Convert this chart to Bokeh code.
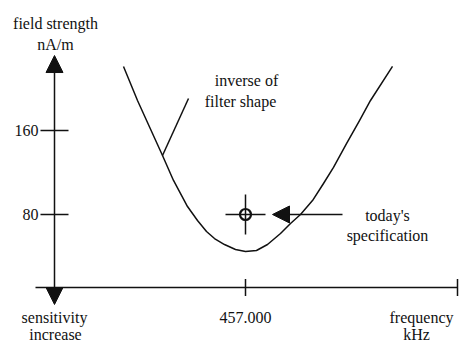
import numpy as np
from bokeh.plotting import figure
from bokeh.models import ColumnDataSource, Arrow, NormalHead, Range1d
from bokeh.core.properties import value
from bokeh.embed import file_html
from bokeh.resources import INLINE

# ---- data (frequency in kHz, field strength in nA/m) ----
curve_freq = [455.78, 455.92, 456.17, 456.28, 456.42, 456.52, 456.61, 456.69,
              456.79, 456.90, 457.00, 457.11, 457.22, 457.35, 457.45, 457.55,
              457.67, 457.78, 457.88, 458.01, 458.14, 458.25, 458.47]
curve_strength = [221.0, 188.6, 136.2, 112.4, 87.6, 74.3, 63.8, 57.1,
                  51.4, 46.7, 44.8, 45.7, 51.4, 61.9, 71.4, 80.0,
                  93.3, 109.5, 124.8, 147.6, 169.5, 188.6, 221.0]
y_ticks = [80, 160]
y_tick_labels = ["80", "160"]
x_ticks = [457.000]
x_tick_labels = ["457.000"]
spec_freq = [457.000]
spec_strength = [80]

# ---- layout constants ----
AXIS_FREQ = 455.09
AXIS_STRENGTH = 10.5
Y_AXIS_TOP = 231.4
Y_AXIS_BOTTOM = -5.7
X_AXIS_LEFT = 454.90
X_AXIS_RIGHT = 459.12
FONT = value("Liberation Serif")
FS = "16px"
INK = "#111111"

p = figure(width=459, height=344,
           x_range=Range1d(454.55, 459.14), y_range=Range1d(-43.81, 283.81),
           output_backend="svg", toolbar_location=None,
           x_axis_location=None, y_axis_location=None,
           min_border=0, outline_line_color=None)
p.grid.visible = False
p.background_fill_color = "white"
p.border_fill_color = "white"

# vertical axis with arrowheads at both ends
p.add_layout(Arrow(start=NormalHead(size=17, fill_color=INK, line_color=INK, line_width=1),
                   end=NormalHead(size=17, fill_color=INK, line_color=INK, line_width=1),
                   x_start=AXIS_FREQ, y_start=Y_AXIS_BOTTOM,
                   x_end=AXIS_FREQ, y_end=Y_AXIS_TOP,
                   line_width=1.5, line_color=INK))

# horizontal axis
p.segment(x0=[X_AXIS_LEFT], y0=[AXIS_STRENGTH], x1=[X_AXIS_RIGHT], y1=[AXIS_STRENGTH],
          line_width=1.5, line_color=INK)

# y ticks
p.scatter(x=[AXIS_FREQ] * len(y_ticks), y=y_ticks, marker="dash", size=28,
          line_width=1.5, line_color=INK)
p.text(x=[AXIS_FREQ] * len(y_ticks), y=y_ticks, text=y_tick_labels,
       x_offset=-16, text_align="right", text_baseline="middle",
       text_font=FONT, text_font_size=FS, text_color=INK)

# x ticks (labelled one plus the axis end tick)
p.scatter(x=x_ticks + [X_AXIS_RIGHT], y=[AXIS_STRENGTH] * (len(x_ticks) + 1),
          marker="dash", angle=np.pi / 2, size=17, line_width=1.5, line_color=INK)

# filter curve
p.line(curve_freq, curve_strength, line_width=1.5, line_color=INK, line_join="round")

# pointer to curve
p.segment(x0=[456.17], y0=[136.2], x1=[456.43], y1=[190.5], line_width=1.5, line_color=INK)

# today's specification target
p.scatter(spec_freq, spec_strength, marker="cross", size=40, line_width=1.5, line_color=INK)
p.scatter(spec_freq, spec_strength, marker="circle", size=11, fill_color=None,
          line_width=2.2, line_color=INK)
p.add_layout(Arrow(end=NormalHead(size=17, fill_color=INK, line_color=INK, line_width=1),
                   x_start=457.97, y_start=spec_strength[0],
                   x_end=457.27, y_end=spec_strength[0],
                   line_width=1.5, line_color=INK))

# texts
BOTTOM1 = -18.1
BOTTOM2 = -34.3
labels = ColumnDataSource(dict(
    x=[455.10, 455.10, 457.01, 456.95, 458.42, 458.42,
       455.09, 455.10, x_ticks[0], 458.76, 458.71],
    y=[261.9, 241.9, 207.6, 187.6, 79.0, 60.0,
       BOTTOM1, BOTTOM2, BOTTOM1, BOTTOM1, BOTTOM2],
    text=["field strength", "nA/m", "inverse of", "filter shape", "today's",
          "specification", "sensitivity", "increase", x_tick_labels[0],
          "frequency", "kHz"],
))
p.text(x="x", y="y", text="text", source=labels, text_align="center",
       text_baseline="middle", text_font=FONT, text_font_size=FS, text_color=INK)

open("out.html", "w").write(file_html(p, INLINE))
